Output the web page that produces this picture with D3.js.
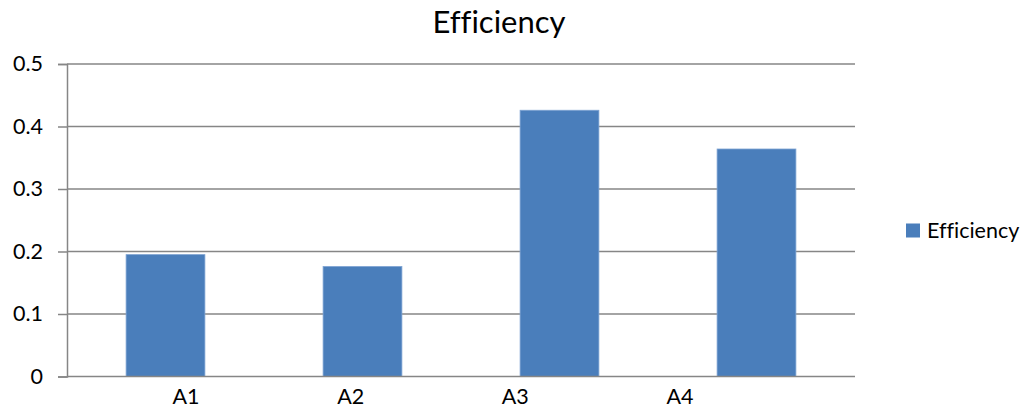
<!DOCTYPE html>
<html>
<head>
<meta charset="utf-8">
<script src="https://cdn.jsdelivr.net/npm/d3@7"></script>
<style>
  html, body { margin: 0; padding: 0; background: #fff; }
  svg { display: block; }
  text { font-family: Lato, "Open Sans", sans-serif; fill: #000; font-variant-ligatures: none; }
</style>
</head>
<body>
<script>
// Chart data
const categories = ["A1", "A2", "A3", "A4"];
const efficiency = [0.195, 0.176, 0.426, 0.364];
const yTicks = [0, 0.1, 0.2, 0.3, 0.4, 0.5];
const seriesName = "Efficiency";
const chartTitle = "Efficiency";

const W = 1027, H = 412;
const plot = { left: 67, right: 855, top: 64, bottom: 376.5 };
const labelSize = 21.5;

const svg = d3.select("body").append("svg")
  .attr("width", W).attr("height", H);

const x = d3.scaleBand()
  .domain(categories)
  .range([plot.left, plot.right])
  .paddingInner(0.6)
  .paddingOuter(0.3);

const y = d3.scaleLinear()
  .domain([0, 0.5])
  .range([plot.bottom, plot.top]);

// Category labels sit on their own evenly spaced row below the axis
const xLabel = d3.scalePoint()
  .domain(categories)
  .range([186, 680]);

const gridColor = "#868686";

// Horizontal gridlines
svg.append("g")
  .selectAll("line")
  .data(yTicks.filter(d => d > 0))
  .join("line")
  .attr("x1", plot.left).attr("x2", plot.right)
  .attr("y1", d => y(d)).attr("y2", d => y(d))
  .attr("stroke", gridColor).attr("stroke-width", 1.5);

// Bars
svg.append("g")
  .selectAll("rect")
  .data(efficiency)
  .join("rect")
  .attr("x", (d, i) => x(categories[i]))
  .attr("width", x.bandwidth())
  .attr("y", d => y(d))
  .attr("height", d => y(0) - y(d))
  .attr("fill", "#4A7EBB")
  .attr("stroke", "#7ea3d3")
  .attr("stroke-width", 0.8);

// Y axis
const yAxis = svg.append("g")
  .attr("transform", `translate(${plot.left},0)`)
  .call(d3.axisLeft(y).tickValues(yTicks).tickSize(9).tickPadding(15)
    .tickFormat(d => d === 0 ? "0" : d3.format(".1f")(d)));
yAxis.select(".domain").attr("stroke", gridColor).attr("stroke-width", 1.5);
yAxis.selectAll(".tick line").attr("stroke", gridColor).attr("stroke-width", 1.5);
yAxis.selectAll(".tick text").attr("font-size", labelSize).attr("fill", "#000")
  .attr("font-family", "Lato, 'Open Sans', sans-serif");

// X axis baseline
svg.append("line")
  .attr("x1", plot.left).attr("x2", plot.right)
  .attr("y1", y(0)).attr("y2", y(0))
  .attr("stroke", gridColor).attr("stroke-width", 1.5);

// Category labels
svg.append("g")
  .selectAll("text")
  .data(categories)
  .join("text")
  .attr("x", d => xLabel(d))
  .attr("y", 404)
  .attr("text-anchor", "middle")
  .attr("font-size", labelSize)
  .text(d => d);

// Title
svg.append("text")
  .attr("x", 499).attr("y", 33)
  .attr("text-anchor", "middle")
  .attr("font-size", 31)
  .text(chartTitle);

// Legend
const legend = svg.append("g");
legend.append("rect")
  .attr("x", 906).attr("y", 223.5)
  .attr("width", 14).attr("height", 14)
  .attr("fill", "#4A7EBB");
legend.append("text")
  .attr("x", 927).attr("y", 238)
  .attr("font-size", labelSize)
  .text(seriesName);
</script>
</body>
</html>
